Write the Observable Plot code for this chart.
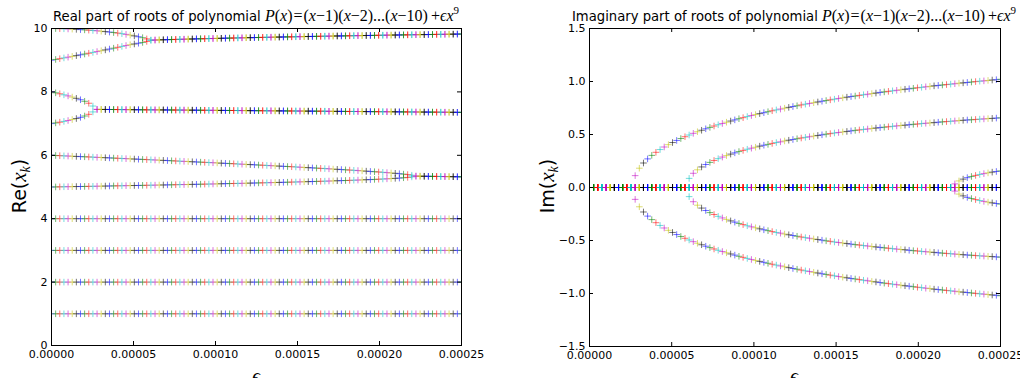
<!DOCTYPE html>
<html>
<head>
<meta charset="utf-8">
<script src="https://cdn.jsdelivr.net/npm/d3@7"></script>
<script src="https://cdn.jsdelivr.net/npm/@observablehq/plot@0.6"></script>
<style>
  html, body { margin: 0; padding: 0; background: #fff; overflow: hidden; }
  #wrap { position: relative; width: 1020px; height: 378px; overflow: hidden; }
  .panel { position: absolute; top: 0; width: 510px; height: 378px; }
  #overlay { position: absolute; left: 0; top: 0; pointer-events: none; }
  .sans { font-family: "DejaVu Sans", sans-serif; }
  .m { font-family: "Liberation Serif", "DejaVu Serif", serif; }
  .i { font-style: italic; }
</style>
</head>
<body>
<div id="wrap">
  <div id="left" class="panel" style="left:0"></div>
  <div id="right" class="panel" style="left:510px"></div>
  <svg id="overlay" width="1020" height="378">
    <text class="sans" x="256" y="21" text-anchor="middle" font-size="13.2">Real part of roots of polynomial <tspan class="m" font-size="16"><tspan class="i">P</tspan>(<tspan class="i">x</tspan>)<tspan dx="1">=</tspan><tspan dx="1">(</tspan><tspan class="i">x</tspan>−1)(<tspan class="i">x</tspan>−2)...(<tspan class="i">x</tspan>−10)<tspan dx="3">+</tspan><tspan class="i">ϵx</tspan><tspan dy="-7" font-size="11">9</tspan></tspan></text>
    <text class="sans" x="794" y="21" text-anchor="middle" font-size="13.2">Imaginary part of roots of polynomial <tspan class="m" font-size="16"><tspan class="i">P</tspan>(<tspan class="i">x</tspan>)<tspan dx="1">=</tspan><tspan dx="1">(</tspan><tspan class="i">x</tspan>−1)(<tspan class="i">x</tspan>−2)...(<tspan class="i">x</tspan>−10)<tspan dx="3">+</tspan><tspan class="i">ϵx</tspan><tspan dy="-7" font-size="11">9</tspan></tspan></text>
    <text class="sans" transform="translate(26,186) rotate(-90)" text-anchor="middle" font-size="19">Re(<tspan class="m i" font-size="21">x</tspan><tspan class="m i" font-size="14" dy="4">k</tspan><tspan dy="-4">)</tspan></text>
    <text class="sans" transform="translate(554,186) rotate(-90)" text-anchor="middle" font-size="19">Im(<tspan class="m i" font-size="21">x</tspan><tspan class="m i" font-size="14" dy="4">k</tspan><tspan dy="-4">)</tspan></text>
    <text class="m i" x="256" y="382" text-anchor="middle" font-size="19">ϵ</text>
    <text class="m i" x="794" y="382" text-anchor="middle" font-size="19">ϵ</text>
  </svg>
</div>
<script>
// ---- data ----
const eps = [0, 2.525e-6, 5.051e-6, 7.576e-6, 10.101e-6, 12.626e-6, 15.152e-6, 17.677e-6, 20.202e-6, 22.727e-6,
  25.253e-6, 27.778e-6, 30.303e-6, 32.828e-6, 35.354e-6, 37.879e-6, 40.404e-6, 42.929e-6, 45.455e-6, 47.980e-6,
  50.505e-6, 53.030e-6, 55.556e-6, 58.081e-6, 60.606e-6, 63.131e-6, 65.657e-6, 68.182e-6, 70.707e-6, 73.232e-6,
  75.758e-6, 78.283e-6, 80.808e-6, 83.333e-6, 85.859e-6, 88.384e-6, 90.909e-6, 93.434e-6, 95.960e-6, 98.485e-6,
  101.010e-6, 103.535e-6, 106.061e-6, 108.586e-6, 111.111e-6, 113.636e-6, 116.162e-6, 118.687e-6, 121.212e-6, 123.737e-6,
  126.263e-6, 128.788e-6, 131.313e-6, 133.838e-6, 136.364e-6, 138.889e-6, 141.414e-6, 143.939e-6, 146.465e-6, 148.990e-6,
  151.515e-6, 154.040e-6, 156.566e-6, 159.091e-6, 161.616e-6, 164.141e-6, 166.667e-6, 169.192e-6, 171.717e-6, 174.242e-6,
  176.768e-6, 179.293e-6, 181.818e-6, 184.343e-6, 186.869e-6, 189.394e-6, 191.919e-6, 194.444e-6, 196.970e-6, 199.495e-6,
  202.020e-6, 204.545e-6, 207.071e-6, 209.596e-6, 212.121e-6, 214.646e-6, 217.172e-6, 219.697e-6, 222.222e-6, 224.747e-6,
  227.273e-6, 229.798e-6, 232.323e-6, 234.848e-6, 237.374e-6, 239.899e-6, 242.424e-6, 244.949e-6, 247.475e-6, 250.000e-6];

// roots that stay real (one value per epsilon)
const re1 = [1,1,1,1,1,1,1,1,1,1,1,1,1,1,1,1,1,1,1,1,1,1,1,1,1,1,1,1,1,1,1,1,1,1,1,1,1,1,1,1,1,1,1,1,1,1,1,1,1,1,
  1,1,1,1,1,1,1,1,1,1,1,1,1,1,1,1,1,1,1,1,1,1,1,1,1,1,1,1,1,1,1,1,1,1,1,1,1,1,1,1,1,1,1,1,1,1,1,1,1,1];
const re2 = [2,2,2,2,2,2,2,2,2,2,2,2,2,2,2,2,2,2,2,2,2,2,2,2,2,2,2,2,2,2,2,2,2,2,2,2,2,2,2,2,2,2,2,2,2,2,2,2,2,2,
  2,2,2,2,2,2,2,2,2,2,2,2,2,2,2,2,2,2,2,2,2,2,2,2,2,2,2,2,2,2,2,2,2,2,2,2,2,2,2,2,2,2,2,2,2,2,2,2,2,2];
const re3 = [3,3,3,3,3,3,3,3,3,3,3,3,3,3,3,3,3,3,3,3,3,3,3,3,3,3,3,3,3,3,3,3,3,3,3,3,3,3,3,3,3,3,3,3,3,3,3,3,3,3,
  3,3,3,3,3,3,3,3,3,3,3,3,3,3,3,3,3,3,3,3,3,3,3,3,3,3,3,3,3,3,3,3,3,3,3,3,3,3,3,3,3,3,3,3,3,3,3,3,3,3];
const re4 = [4,4,4,4,4,4,4,4,4,4,4,4,4,4,4,4,4,4,4,4,4,4,4,4,4,4,4,4,4,4,4,4,4,4,4,4,4,4,4,4,4,4,4,4,4,4,4,4,4,4,
  4,4,4,4,4,4,4,4,4,4,4,4,4,4,4,4,4,4,4,4,4,4,4,4,4,4,4,4,4,4,4,4,4,4,4,4,4,4,4,4,4,4,4,4,4,4,4,4,4,4];

// roots 5 and 6: real until they meet, then a complex pair
const re5 = [5.000,5.002,5.005,5.007,5.009,5.011,5.014,5.016,5.018,5.021, 5.023,5.025,5.027,5.030,5.032,5.035,5.037,5.039,5.042,5.044,
  5.047,5.049,5.052,5.054,5.057,5.059,5.062,5.064,5.067,5.069, 5.072,5.075,5.077,5.080,5.083,5.085,5.088,5.091,5.093,5.096,
  5.099,5.102,5.105,5.108,5.111,5.114,5.116,5.119,5.123,5.126, 5.129,5.132,5.135,5.138,5.141,5.145,5.148,5.151,5.155,5.158,
  5.162,5.165,5.169,5.173,5.177,5.180,5.184,5.188,5.192,5.197, 5.201,5.205,5.210,5.214,5.219,5.224,5.229,5.234,5.240,5.246,
  5.252,5.258,5.265,5.273,5.281,5.291,5.303,5.319];
const re6 = [6.000,5.994,5.988,5.982,5.977,5.971,5.965,5.959,5.953,5.948, 5.942,5.936,5.930,5.924,5.918,5.912,5.906,5.900,5.894,5.888,
  5.882,5.876,5.870,5.864,5.858,5.852,5.846,5.840,5.834,5.827, 5.821,5.815,5.809,5.803,5.796,5.790,5.784,5.778,5.771,5.765,
  5.759,5.752,5.746,5.739,5.733,5.726,5.720,5.713,5.707,5.700, 5.693,5.687,5.680,5.673,5.666,5.659,5.653,5.646,5.639,5.632,
  5.625,5.617,5.610,5.603,5.596,5.588,5.581,5.573,5.566,5.558, 5.550,5.542,5.534,5.526,5.518,5.509,5.500,5.491,5.482,5.473,
  5.463,5.453,5.443,5.432,5.420,5.406,5.391,5.371];
const re56 = [5.343,5.341,5.339,5.337,5.335,5.333,5.331,5.329,5.327,5.325,5.323,5.321];
const im56 = [0.034,0.062,0.079,0.093,0.104,0.114,0.123,0.131,0.138,0.145,0.151,0.157];

// roots 7 and 8
const re7 = [7.000,7.022,7.045,7.070,7.097,7.127,7.160,7.197,7.240,7.293,7.368];
const re8 = [8.000,7.971,7.940,7.908,7.874,7.837,7.797,7.753,7.704,7.642,7.554];
const re78 = [7.448,7.447,7.446,7.445,7.444,7.443,7.442,7.441,7.440,
  7.438,7.437,7.436,7.435,7.434,7.433,7.432,7.431,7.430,7.429, 7.428,7.427,7.426,7.425,7.424,7.423,7.421,7.420,7.419,7.418,
  7.417,7.416,7.415,7.414,7.413,7.412,7.411,7.410,7.409,7.408, 7.407,7.406,7.404,7.403,7.402,7.401,7.400,7.399,7.398,7.397,
  7.396,7.395,7.394,7.393,7.392,7.391,7.390,7.388,7.387,7.386, 7.385,7.384,7.383,7.382,7.381,7.380,7.379,7.378,7.377,7.376,
  7.375,7.374,7.373,7.372,7.370,7.369,7.368,7.367,7.366,7.365, 7.364,7.363,7.362,7.361,7.360,7.359,7.358,7.357,7.356,7.355];
const im78 = [0.112,0.182,0.231,0.270,0.303,0.332,0.358,0.382,0.404,
  0.424,0.444,0.462,0.479,0.495,0.511,0.526,0.540,0.554,0.567, 0.580,0.592,0.604,0.616,0.627,0.638,0.649,0.659,0.669,0.679,
  0.688,0.697,0.706,0.715,0.724,0.732,0.740,0.748,0.756,0.764, 0.771,0.779,0.786,0.793,0.800,0.807,0.814,0.820,0.827,0.833,
  0.840,0.846,0.852,0.858,0.863,0.869,0.875,0.880,0.886,0.891, 0.897,0.902,0.907,0.912,0.917,0.922,0.927,0.931,0.936,0.941,
  0.945,0.950,0.954,0.959,0.963,0.967,0.971,0.975,0.979,0.984, 0.987,0.991,0.995,0.999,1.003,1.006,1.010,1.014,1.017,1.021];

// roots 9 and 10
const re9 = [9.000,9.024,9.048,9.072,9.096,9.120,9.145,9.170,9.195,9.220, 9.246,9.272,9.298,9.325,9.352,9.379,9.407,9.435,9.462,9.488,
  9.512,9.535,9.560,9.592];
const re10 = [10.000,9.998,9.995,9.991,9.986,9.980,9.973,9.965,9.957,9.948, 9.938,9.927,9.915,9.902,9.888,9.872,9.855,9.836,9.815,9.792,
  9.767,9.740,9.710,9.672];
const re910 = [9.632,9.636,9.640,9.644,9.648,9.652,9.655,9.659,9.662,9.666, 9.669,9.673,9.676,9.679,9.682,9.685,9.688,9.691,9.694,9.697,
  9.700,9.703,9.706,9.709,9.711,9.714,9.717,9.720,9.722,9.725, 9.728,9.730,9.733,9.735,9.738,9.740,9.743,9.745,9.748,9.750,
  9.752,9.755,9.757,9.759,9.762,9.764,9.766,9.768,9.771,9.773, 9.775,9.777,9.779,9.781,9.783,9.786,9.788,9.790,9.792,9.794,
  9.796,9.798,9.800,9.802,9.804,9.806,9.808,9.810,9.812,9.814, 9.816,9.818,9.820,9.822,9.824,9.826];
const im910 = [0.086,0.134,0.167,0.194,0.217,0.237,0.255,0.272,0.287,0.301, 0.315,0.327,0.339,0.350,0.361,0.371,0.380,0.390,0.399,0.407,
  0.416,0.424,0.431,0.439,0.446,0.453,0.460,0.467,0.473,0.479, 0.485,0.491,0.497,0.503,0.508,0.514,0.519,0.524,0.529,0.534,
  0.539,0.543,0.548,0.552,0.557,0.561,0.565,0.569,0.573,0.577, 0.581,0.585,0.588,0.592,0.596,0.599,0.603,0.606,0.609,0.612,
  0.616,0.619,0.622,0.625,0.628,0.631,0.634,0.637,0.639,0.642, 0.645,0.647,0.650,0.652,0.655,0.657];

// axes
const xDomain = [0, 0.00025];
const xTicks = [0, 0.00005, 0.0001, 0.00015, 0.0002, 0.00025];
const reDomain = [0, 10];
const reTicks = [0, 2, 4, 6, 8, 10];
const imDomain = [-1.5, 1.5];
const imTicks = [-1.5, -1, -0.5, 0, 0.5, 1, 1.5];
const colorCycle = ["#0000ff", "#008000", "#ff0000", "#00bfbf", "#bf00bf", "#bfbf00", "#000000"];

// ---- build the table of roots (one row per root per epsilon) ----
const roots = [];
eps.forEach((e, i) => {
  const add = (re, im) => roots.push({eps: e, re, im, step: i});
  for (const a of [re1, re2, re3, re4]) add(a[i], 0);
  for (const [lo, hi, reC, imC] of [[re5, re6, re56, im56], [re7, re8, re78, im78], [re9, re10, re910, im910]]) {
    if (i < lo.length) { add(lo[i], 0); add(hi[i], 0); }
    else { const j = i - lo.length; add(reC[j], imC[j]); add(reC[j], -imC[j]); }
  }
});

const plusSymbol = {
  draw(ctx, size) {
    const r = Math.sqrt(size / Math.PI);
    ctx.moveTo(-r, 0); ctx.lineTo(r, 0);
    ctx.moveTo(0, -r); ctx.lineTo(0, r);
  }
};

function panel({yField, yDomain, yTicks, yFormat, marginLeft, marginRight, marginBottom}) {
  const W = 510, H = 378, marginTop = 28;
  const fw = W - marginLeft - marginRight, fh = H - marginTop - marginBottom;
  const tick = 4;
  return Plot.plot({
    width: W, height: H, marginLeft, marginRight, marginTop, marginBottom,
    x: {domain: xDomain},
    y: {domain: yDomain},
    color: {type: "identity"},
    style: {fontFamily: "'DejaVu Sans', sans-serif", fontSize: "11px", color: "#000", background: "transparent"},
    marks: [
      Plot.dot(roots, {x: "eps", y: yField, symbol: plusSymbol, r: 3.3, fill: "none",
        stroke: d => colorCycle[d.step % colorCycle.length], strokeOpacity: 0.55, strokeWidth: 1, clip: true}),
      Plot.tickX(xTicks, {x: d => d, insetTop: fh - tick, stroke: "#000"}),
      Plot.tickX(xTicks, {x: d => d, insetBottom: fh - tick, stroke: "#000"}),
      Plot.tickY(yTicks, {y: d => d, insetRight: fw - tick, stroke: "#000"}),
      Plot.tickY(yTicks, {y: d => d, insetLeft: fw - tick, stroke: "#000"}),
      Plot.frame({stroke: "#000"}),
      Plot.axisX({ticks: xTicks, tickSize: 0, tickPadding: 5, tickFormat: d3.format(".5f"), label: null}),
      Plot.axisY({ticks: yTicks, tickSize: 0, tickPadding: 4, tickFormat: yFormat, label: null})
    ]
  });
}

document.getElementById("left").append(panel({
  yField: "re", yDomain: reDomain, yTicks: reTicks, yFormat: d3.format("d"),
  marginLeft: 51, marginRight: 49, marginBottom: 33
}));
document.getElementById("right").append(panel({
  yField: "im", yDomain: imDomain, yTicks: imTicks, yFormat: d3.format(".1f"),
  marginLeft: 79, marginRight: 20, marginBottom: 32
}));
</script>
</body>
</html>
